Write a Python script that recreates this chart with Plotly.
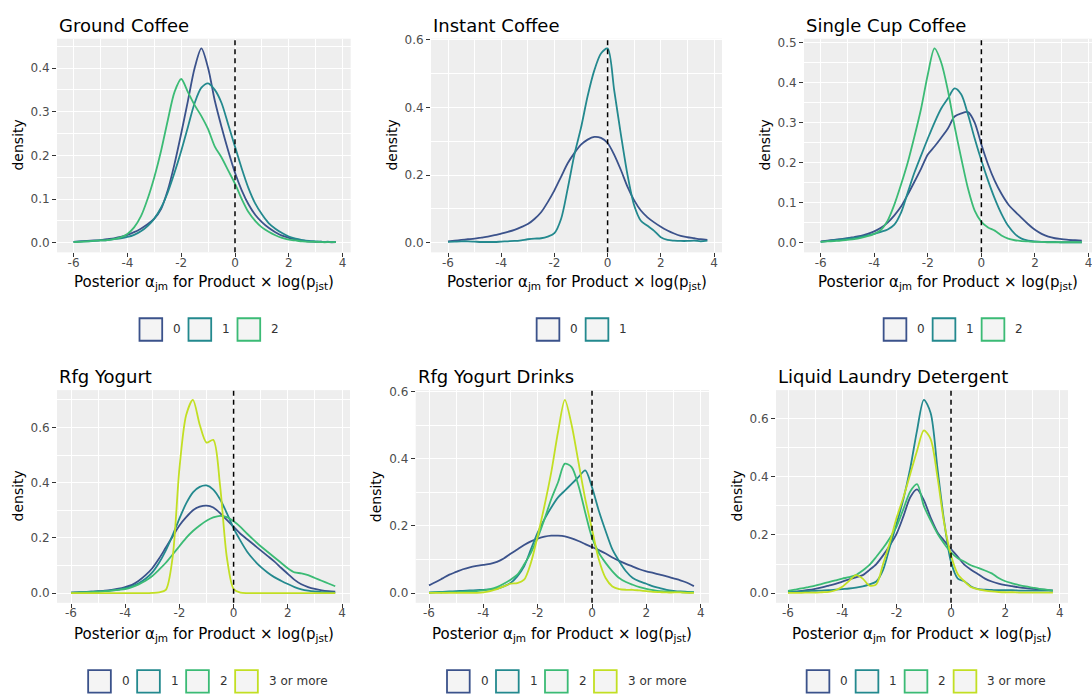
import plotly.graph_objects as go

FIG_W, FIG_H = 1092, 696

# Common evaluation grid for the density estimates
x_grid = [-6.0, -5.75, -5.5, -5.25, -5.0, -4.75, -4.5, -4.25, -4.0, -3.75,
          -3.5, -3.25, -3.0, -2.75, -2.5, -2.25, -2.0, -1.75, -1.5, -1.25,
          -1.0, -0.75, -0.5, -0.25, 0.0, 0.25, 0.5, 0.75, 1.0, 1.25,
          1.5, 1.75, 2.0, 2.25, 2.5, 2.75, 3.0, 3.25, 3.5, 3.75]

x_tick_values = [-6, -4, -2, 0, 2, 4]

level_names = ["0", "1", "2", "3 or more"]
level_colors = ["#3B528B", "#23898E", "#3BBB75", "#C2DF23"]

# Ground Coffee
ground_0 = [.002, .003, .004, .005, .006, .008, .010, .013, .018, .024,
            .032, .042, .055, .077, .12, .18, .25, .325, .40, .445,
            .40, .325, .265, .21, .16, .12, .088, .064, .047, .034,
            .024, .016, .011, .007, .005, .003, .002, .002, .001, .001]
ground_1 = [.002, .003, .003, .004, .005, .006, .008, .010, .013, .018,
            .026, .038, .055, .08, .115, .16, .21, .265, .32, .355,
            .365, .35, .32, .27, .22, .17, .125, .09, .065, .045,
            .032, .022, .014, .009, .006, .004, .003, .002, .002, .001]
ground_2 = [.001, .002, .003, .004, .005, .006, .008, .012, .02, .035,
            .06, .10, .15, .21, .28, .345, .375, .345, .315, .29,
            .26, .22, .195, .165, .135, .10, .07, .05, .035, .025,
            .017, .011, .007, .005, .003, .002, .002, .001, .001, .001]

# Instant Coffee
instant_0 = [.004, .006, .008, .010, .012, .015, .018, .022, .027, .032,
             .038, .046, .055, .07, .09, .12, .155, .195, .235, .265,
             .29, .305, .313, .31, .295, .26, .215, .165, .125, .095,
             .075, .06, .047, .036, .027, .02, .016, .013, .01, .008]
instant_1 = [.002, .003, .004, .004, .003, .002, .002, .002, .003, .004,
             .005, .007, .010, .012, .013, .018, .028, .07, .16, .26,
             .34, .434, .51, .56, .575, .45, .32, .20, .11, .065,
             .05, .035, .016, .008, .006, .005, .005, .006, .004, .006]

# Single Cup Coffee
single_0 = [.003, .005, .007, .009, .011, .014, .017, .022, .028, .037,
            .05, .068, .09, .12, .152, .185, .22, .24, .262, .285,
            .315, .323, .326, .30, .245, .195, .154, .122, .096, .078,
            .062, .046, .032, .022, .015, .011, .009, .007, .006, .005]
single_1 = [.002, .004, .006, .008, .010, .012, .015, .018, .022, .027,
            .033, .045, .075, .125, .175, .218, .26, .30, .335, .36,
            .385, .37, .32, .26, .205, .155, .11, .072, .042, .022,
            .01, .005, .003, .002, .002, .002, .001, .001, .001, .001]
single_2 = [.002, .003, .004, .005, .007, .009, .012, .016, .022, .032,
            .055, .095, .145, .20, .265, .335, .42, .485, .45, .38,
            .29, .21, .135, .08, .052, .038, .03, .018, .01, .006,
            .004, .003, .002, .002, .001, .001, .001, .001, .001, .001]

# Rfg Yogurt
yogurt_0 = [.002, .003, .004, .005, .007, .009, .012, .016, .022, .03,
            .045, .065, .09, .125, .165, .205, .245, .275, .30, .313,
            .317, .31, .29, .265, .24, .215, .195, .175, .155, .135,
            .115, .092, .07, .048, .032, .022, .015, .01, .007, .005]
yogurt_1 = [.002, .003, .004, .005, .006, .008, .010, .013, .018, .025,
            .036, .052, .075, .11, .155, .21, .27, .325, .365, .385,
            .39, .375, .34, .29, .235, .19, .15, .12, .095, .075,
            .058, .045, .033, .022, .014, .009, .006, .004, .003, .002]
yogurt_2 = [.001, .002, .003, .004, .005, .007, .009, .012, .015, .022,
            .032, .045, .062, .085, .11, .14, .17, .20, .225, .245,
            .262, .274, .28, .275, .26, .24, .215, .192, .17, .15,
            .13, .11, .09, .075, .072, .065, .055, .045, .035, .025]
yogurt_3 = [0, 0, 0, 0, 0, 0, 0, 0, 0, 0,
            0, 0, .001, .003, .012, .13, .45, .645, .70, .61,
            .545, .555, .39, .13, .015, .002, 0, 0, 0, 0,
            0, 0, 0, 0, 0, 0, 0, 0, 0, 0]

# Rfg Yogurt Drinks
drinks_0 = [.023, .033, .044, .055, .063, .071, .077, .081, .084, .087,
            .093, .103, .117, .13, .143, .154, .162, .168, .171, .171,
            .169, .163, .155, .146, .137, .128, .118, .106, .096, .087,
            .079, .071, .065, .06, .055, .05, .044, .038, .031, .021]
drinks_1 = [.002, .003, .004, .005, .006, .007, .008, .009, .01, .011,
            .013, .02, .03, .05, .08, .13, .18, .22, .255, .285,
            .305, .325, .345, .365, .315, .245, .185, .13, .095, .065,
            .045, .035, .028, .02, .015, .01, .007, .005, .004, .003]
drinks_2 = [.001, .002, .002, .003, .003, .004, .005, .006, .008, .012,
            .018, .028, .04, .055, .085, .12, .165, .22, .28, .33,
            .385, .375, .32, .24, .165, .12, .09, .065, .045, .033,
            .025, .018, .013, .009, .006, .005, .004, .003, .002, .002]
drinks_3 = [.001, .001, .001, .001, .001, .001, .001, .001, .002, .006,
            .012, .02, .028, .03, .04, .09, .17, .26, .36, .48,
            .575, .50, .39, .28, .19, .10, .045, .02, .012, .01,
            .01, .008, .006, .004, .003, .002, .002, .002, .001, .001]

# Liquid Laundry Detergent
laundry_0 = [.003, .005, .008, .011, .015, .02, .026, .032, .04, .047,
             .054, .062, .08, .10, .13, .165, .205, .265, .33, .357,
             .32, .26, .21, .18, .152, .125, .097, .08, .065, .05,
             .04, .033, .028, .024, .02, .017, .015, .013, .011, .009]
laundry_1 = [.004, .005, .006, .007, .008, .009, .01, .012, .014, .016,
             .019, .023, .03, .04, .08, .16, .24, .325, .43, .56,
             .665, .62, .43, .245, .107, .05, .04, .022, .014, .012,
             .011, .01, .01, .01, .009, .009, .009, .009, .009, .009]
laundry_2 = [.008, .012, .016, .021, .026, .032, .038, .044, .05, .055,
             .062, .078, .097, .125, .155, .19, .23, .29, .35, .375,
             .30, .25, .205, .17, .14, .12, .108, .095, .087, .078,
             .068, .052, .041, .034, .028, .023, .019, .015, .012, .009]
laundry_3 = [.001, .001, .001, .002, .002, .003, .004, .01, .022, .042,
             .062, .05, .026, .03, .10, .175, .26, .33, .41, .49,
             .56, .53, .40, .24, .13, .065, .04, .02, .013, .009,
             .006, .004, .003, .003, .002, .002, .002, .002, .002, .002]

panel_titles = ["Ground Coffee", "Instant Coffee", "Single Cup Coffee",
                "Rfg Yogurt", "Rfg Yogurt Drinks", "Liquid Laundry Detergent"]
panel_series = [
    [ground_0, ground_1, ground_2],
    [instant_0, instant_1],
    [single_0, single_1, single_2],
    [yogurt_0, yogurt_1, yogurt_2, yogurt_3],
    [drinks_0, drinks_1, drinks_2, drinks_3],
    [laundry_0, laundry_1, laundry_2, laundry_3],
]
panel_ydtick = [0.1, 0.2, 0.1, 0.2, 0.2, 0.2]

# Layout geometry in pixels: panel box (left, right, top, bottom) and
# pixel positions of the x = -6 and x = 4 ticks.
panel_boxes = [
    (57, 350.7, 33, 248.5), (431, 722, 33, 248.5), (804, 1092, 33, 248.5),
    (57, 350, 387.5, 602), (415.7, 709, 387.5, 602), (776, 1068, 387.5, 602),
]
panel_xticks = [
    (73.6, 342.6), (448, 714), (820.7, 1088.5),
    (71, 342), (429, 700.7), (788, 1059.7),
]
row_title_y = [19.5, 374]
row_xtitle_y = [279, 634]
row_legend_y = [326.3, 681.3]

x_axis_title = "Posterior α<sub>jm</sub> for Product × log(p<sub>jst</sub>)"

FONT = "DejaVu Sans"
PANEL_BG = "#EEEEEE"


def px_x(v):
    return v / FIG_W


def px_y(v):
    return 1 - v / FIG_H


fig = go.Figure()
layout = dict(
    width=FIG_W, height=FIG_H, autosize=False,
    margin=dict(l=0, r=0, t=0, b=0),
    paper_bgcolor="white", plot_bgcolor=PANEL_BG,
    showlegend=False,
    font=dict(family=FONT, color="#000000"),
)
annotations = []
shapes = []

KEY = 22.7
KEY_PITCH = 49
LABEL_OFFSET = 31.7

for k, (title, series, ydt, box, xt) in enumerate(
        zip(panel_titles, panel_series, panel_ydtick, panel_boxes, panel_xticks), start=1):
    left, right, top, bottom = box
    m6, p4 = xt
    unit = (p4 - m6) / 10.0
    xlo = -6 - (m6 - left) / unit
    xhi = 4 + (right - p4) / unit
    ymax = max(max(s) for s in series)
    ylo, yhi = -0.05 * ymax, 1.05 * ymax
    row = 0 if k <= 3 else 1
    xa = "x" if k == 1 else f"x{k}"
    ya = "y" if k == 1 else f"y{k}"
    xkey = "xaxis" if k == 1 else f"xaxis{k}"
    ykey = "yaxis" if k == 1 else f"yaxis{k}"

    for i, s in enumerate(series):
        fig.add_trace(go.Scatter(
            x=x_grid, y=s, mode="lines", name=level_names[i],
            line=dict(color=level_colors[i], width=1.8, shape="spline", smoothing=0.8),
            xaxis=xa, yaxis=ya,
        ))

    layout[xkey] = dict(
        domain=[px_x(left), px_x(right)], range=[xlo, xhi], anchor=ya,
        tickmode="array", tickvals=x_tick_values,
        ticktext=[str(v) for v in x_tick_values],
        ticks="outside", ticklen=4, tickwidth=1, tickcolor="#333333",
        ticklabelstandoff=-5, ticklabeloverflow="allow",
        tickfont=dict(family=FONT, size=12, color="#4D4D4D"),
        showgrid=True, gridcolor="white", gridwidth=1.1,
        minor=dict(dtick=1, tick0=0, showgrid=True, gridcolor="white", gridwidth=0.5),
        zeroline=False, showline=False,
    )
    layout[ykey] = dict(
        domain=[px_y(bottom), px_y(top)], range=[ylo, yhi], anchor=xa,
        tickmode="linear", tick0=0, dtick=ydt, tickformat=".1f",
        ticks="outside", ticklen=4, tickwidth=1, tickcolor="#333333",
        tickfont=dict(family=FONT, size=12, color="#4D4D4D"),
        showgrid=True, gridcolor="white", gridwidth=1.1,
        minor=dict(dtick=ydt / 2, tick0=0, showgrid=True, gridcolor="white", gridwidth=0.5),
        zeroline=False, showline=False,
    )

    # reference line at zero
    shapes.append(dict(
        type="line", xref=xa, yref=f"{ya} domain", x0=0, x1=0, y0=0, y1=1,
        line=dict(color="black", width=1.5, dash="5px,4px"), layer="above",
    ))

    # panel title
    annotations.append(dict(
        text=title, xref="paper", yref="paper", x=px_x(left), y=px_y(row_title_y[row]),
        xanchor="left", yanchor="middle", showarrow=False,
        font=dict(family=FONT, size=18, color="#000000"),
    ))
    # axis titles
    annotations.append(dict(
        text=x_axis_title, xref="paper", yref="paper",
        x=px_x((left + right) / 2), y=px_y(row_xtitle_y[row]),
        xanchor="center", yanchor="middle", showarrow=False,
        font=dict(family=FONT, size=15, color="#000000"),
    ))
    annotations.append(dict(
        text="density", xref="paper", yref="paper",
        x=px_x(left - 39), y=px_y((top + bottom) / 2), textangle=-90,
        xanchor="center", yanchor="middle", showarrow=False,
        font=dict(family=FONT, size=14, color="#000000"),
    ))

    # legend below the panel
    n = len(series)
    last_w = 60 if n == 4 else 7
    total = (n - 1) * KEY_PITCH + LABEL_OFFSET + last_w
    start = (left + right) / 2 - total / 2 + 4
    cy = row_legend_y[row]
    for i in range(n):
        kx = start + i * KEY_PITCH
        shapes.append(dict(
            type="rect", xref="paper", yref="paper",
            x0=px_x(kx), x1=px_x(kx + KEY), y0=px_y(cy + KEY / 2), y1=px_y(cy - KEY / 2),
            line=dict(color=level_colors[i], width=1.8), fillcolor="#F4F4F4",
        ))
        annotations.append(dict(
            text=level_names[i], xref="paper", yref="paper",
            x=px_x(kx + LABEL_OFFSET), y=px_y(cy),
            xanchor="left", yanchor="middle", showarrow=False,
            font=dict(family=FONT, size=12, color="#333333"),
        ))

layout["annotations"] = annotations
layout["shapes"] = shapes
fig.update_layout(**layout)
fig.write_html("out.html")
